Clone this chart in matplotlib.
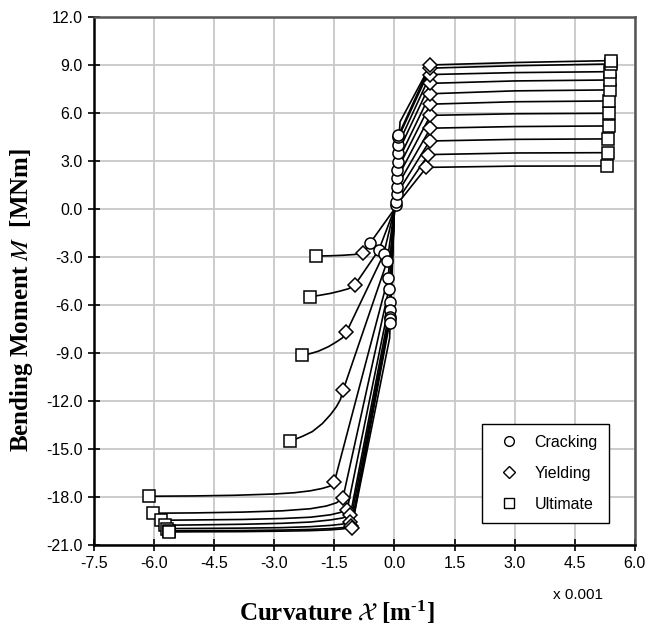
import numpy as np
import matplotlib
matplotlib.use("Agg")
from matplotlib import pyplot as plt
from matplotlib.lines import Line2D

plt.rcParams['font.family'] = ['Liberation Sans', 'DejaVu Sans']
plt.rcParams['mathtext.fontset'] = 'stix'

# curvature in 1e-3 1/m, moment in MNm
# positive bending: cracking, yielding, ultimate (11 curves)
pos_crack_x = [0.05, 0.05, 0.06, 0.06, 0.07, 0.07, 0.08, 0.08, 0.09, 0.1, 0.1]
pos_crack_y = [0.25, 0.46, 0.94, 1.4, 1.92, 2.44, 2.96, 3.48, 4.0, 4.48, 4.6]
pos_yield_x = [0.8, 0.85, 0.88, 0.9, 0.9, 0.9, 0.9, 0.9, 0.9, 0.9, 0.9]
pos_yield_y = [2.6, 3.4, 4.25, 5.05, 5.85, 6.55, 7.2, 7.85, 8.4, 8.8, 9.0]
pos_mid_y = [2.68, 3.5, 4.35, 5.15, 5.95, 6.7, 7.38, 8.0, 8.52, 8.95, 9.15]
pos_ult_x = [5.32, 5.33, 5.34, 5.35, 5.36, 5.37, 5.38, 5.38, 5.39, 5.4, 5.4]
pos_ult_y = [2.69, 3.52, 4.38, 5.19, 5.98, 6.75, 7.44, 8.06, 8.58, 9.06, 9.27]
pos_spike = (0.14, 5.45)

# negative bending
neg_crack_x = [-0.6, -0.39, -0.27, -0.18, -0.16, -0.14, -0.12, -0.12, -0.12, -0.12, -0.12]
neg_crack_y = [-2.1, -2.56, -2.83, -3.25, -4.33, -5.02, -5.79, -6.31, -6.73, -6.9, -7.1]
neg_yield_x = [-0.79, -0.99, -1.2, -1.28, -1.5, -1.29, -1.18, -1.1, -1.1, -1.08, -1.07]
neg_yield_y = [-2.77, -4.75, -7.7, -11.3, -17.04, -18.08, -18.77, -19.1, -19.54, -19.8, -19.9]
neg_ult_x = [-1.96, -2.1, -2.31, -2.6, -6.14, -6.03, -5.83, -5.72, -5.68, -5.64, -5.62]
neg_ult_y = [-2.94, -5.48, -9.13, -14.5, -17.94, -19.0, -19.44, -19.75, -19.96, -20.1, -20.17]
# points read along the post-yield branches
neg_post_x = [[-1.0, -1.3, -1.6],
              [-1.15, -1.35, -1.6, -1.85],
              [-1.3, -1.45, -1.65, -1.9, -2.1],
              [-1.35, -1.45, -1.6, -1.8, -2.05, -2.3],
              [-1.6, -1.8, -2.1, -2.5, -3.0, -4.0, -5.0],
              [-1.45, -1.7, -2.1, -2.8, -3.8, -5.0],
              [-1.35, -1.6, -2.1, -2.8, -3.8, -5.0],
              [-1.3, -1.6, -2.1, -2.8, -3.8, -5.0],
              [-1.3, -1.6, -2.1, -2.8, -3.8, -5.0],
              [-1.3, -1.6, -2.1, -2.8, -3.8, -5.0],
              [-1.3, -1.6, -2.1, -2.8, -3.8, -5.0]]
neg_post_y = [[-2.84, -2.89, -2.92],
              [-4.98, -5.12, -5.27, -5.38],
              [-8.05, -8.3, -8.6, -8.88, -9.03],
              [-11.9, -12.35, -12.85, -13.4, -13.9, -14.2],
              [-17.3, -17.45, -17.6, -17.72, -17.8, -17.88, -17.92],
              [-18.35, -18.55, -18.72, -18.85, -18.93, -18.98],
              [-18.95, -19.1, -19.25, -19.33, -19.39, -19.42],
              [-19.3, -19.42, -19.55, -19.63, -19.69, -19.73],
              [-19.68, -19.76, -19.84, -19.9, -19.93, -19.95],
              [-19.9, -19.96, -20.01, -20.05, -20.08, -20.09],
              [-19.98, -20.04, -20.09, -20.12, -20.15, -20.16]]
neg_spike = (-0.12, -8.06)

fig = plt.figure(figsize=(6.49, 6.26), dpi=100)
ax = fig.add_axes([0.145, 0.129, 0.833, 0.844])

lc = 'black'
lw = 1.2
ms = 8

for i in range(len(pos_ult_y)):
    xs = [0, pos_crack_x[i], pos_yield_x[i], 3.0, pos_ult_x[i]]
    ys = [0, pos_crack_y[i], pos_yield_y[i], pos_mid_y[i], pos_ult_y[i]]
    ax.plot(xs, ys, color=lc, lw=lw, zorder=3)
ax.plot([0, pos_spike[0], pos_yield_x[-1]], [0, pos_spike[1], pos_yield_y[-1]], color=lc, lw=lw, zorder=3)

for i in range(len(neg_ult_y)):
    xs = [0, neg_crack_x[i], neg_yield_x[i]] + neg_post_x[i] + [neg_ult_x[i]]
    ys = [0, neg_crack_y[i], neg_yield_y[i]] + neg_post_y[i] + [neg_ult_y[i]]
    ax.plot(xs, ys, color=lc, lw=lw, zorder=3)
ax.plot([0, neg_spike[0], neg_yield_x[-1]], [0, neg_spike[1], neg_yield_y[-1]], color=lc, lw=lw, zorder=3)

mk = dict(mfc='white', mec='black', mew=1.1, ms=ms, ls='none', zorder=4)
ax.plot(pos_ult_x, pos_ult_y, marker='s', **mk)
ax.plot(neg_ult_x, neg_ult_y, marker='s', **mk)
ax.plot(pos_yield_x, pos_yield_y, marker='D', **dict(mk, ms=7))
ax.plot(neg_yield_x, neg_yield_y, marker='D', **dict(mk, ms=7))
ax.plot(pos_crack_x, pos_crack_y, marker='o', **mk)
ax.plot(neg_crack_x, neg_crack_y, marker='o', **mk)

ax.set_xlim(-7.5, 6.0)
ax.set_ylim(-21.0, 12.0)
ax.set_xticks(np.arange(-7.5, 6.01, 1.5))
ax.set_yticks(np.arange(-21.0, 12.01, 3.0))
ax.xaxis.set_major_formatter(matplotlib.ticker.FormatStrFormatter('%.1f'))
ax.yaxis.set_major_formatter(matplotlib.ticker.FormatStrFormatter('%.1f'))
ax.tick_params(direction='inout', length=8, width=1.2, labelsize=11.5, pad=4)
ax.grid(True, color='#c8c8c8', lw=1.3, zorder=0)
ax.set_axisbelow(True)

for s in ['left', 'bottom']:
    ax.spines[s].set_linewidth(1.8)
    ax.spines[s].set_color('black')
for s in ['top', 'right']:
    ax.spines[s].set_linewidth(1.8)
    ax.spines[s].set_color('#555555')

# axis titles placed on the figure
fig.text(337 / 649, 1 - 612 / 626, r'Curvature $\mathcal{X}$ [m$^{\mathregular{\text{-}1}}$]',
         family='Liberation Serif', fontweight='bold', fontsize=18,
         ha='center', va='center')
fig.text(22 / 649, 1 - 300 / 626, r'Bending Moment $M$  [MNm]',
         family='Liberation Serif', fontweight='bold', fontsize=18,
         ha='center', va='center', rotation=90)
fig.text(0.89, 0.049, 'x 0.001', fontsize=11, ha='center', va='center')

handles = [Line2D([], [], marker='o', mfc='white', mec='black', ls='none', ms=7),
           Line2D([], [], marker='D', mfc='white', mec='black', ls='none', ms=6),
           Line2D([], [], marker='s', mfc='white', mec='black', ls='none', ms=7)]
leg = ax.legend(handles, ['Cracking', 'Yielding', 'Ultimate'], loc='lower right',
                bbox_to_anchor=(0.952, 0.042), borderaxespad=0, fontsize=11.5,
                fancybox=False, framealpha=1, edgecolor='black', labelspacing=1.0,
                handletextpad=0.6, borderpad=0.7)
leg.get_frame().set_linewidth(1.0)

plt.savefig('out.png', dpi=100)
plt.close()
